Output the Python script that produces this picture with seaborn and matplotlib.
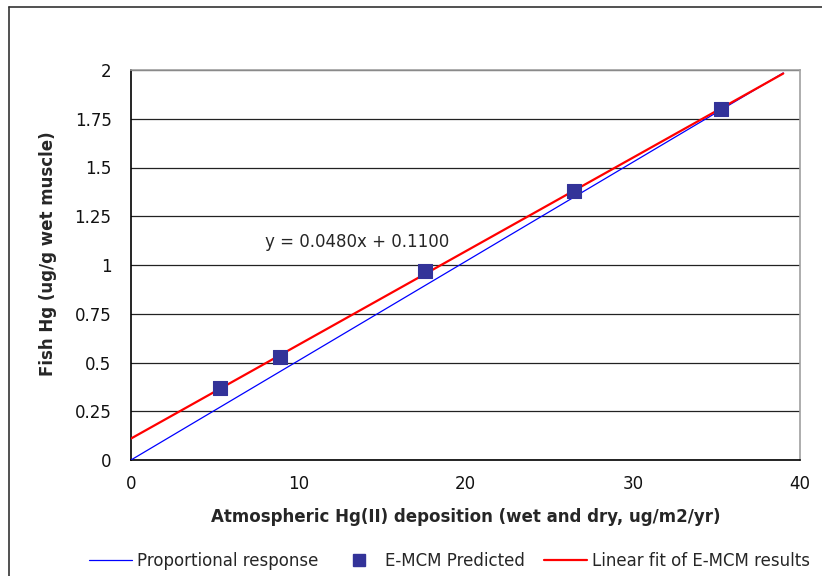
import numpy as np
import pandas as pd
import seaborn as sns
import matplotlib.pyplot as plt
from matplotlib.ticker import MultipleLocator
from matplotlib.lines import Line2D

# E-MCM predicted points (deposition vs fish Hg)
deposition = [5.3, 8.9, 17.6, 26.5, 35.3]
fish_hg = [0.37, 0.53, 0.97, 1.38, 1.80]

# line endpoints
prop_x = [0, 39]
prop_y = [0, 1.985]
fit_x = [0, 39]
fit_y = [0.11, 1.982]

sns.set_style("white")
plt.rcParams['font.family'] = ['DejaVu Sans']

fig = plt.figure(figsize=(8.22, 5.76), dpi=100)
ax = fig.add_axes([131 / 822, 1 - 460 / 576, 669 / 822, 390 / 576])

df = pd.DataFrame({"x": deposition, "y": fish_hg})

# lines first, then markers on top
sns.lineplot(x=prop_x, y=prop_y, ax=ax, color="#0000ff", linewidth=0.9, zorder=3)
sns.lineplot(x=fit_x, y=fit_y, ax=ax, color="#ff0000", linewidth=1.6, zorder=4)
sns.scatterplot(data=df, x="x", y="y", ax=ax, marker="s", s=95, color="#333399",
                edgecolor="#333399", zorder=5)

ax.set_xlim(0, 40)
ax.set_ylim(0, 2)
ax.xaxis.set_major_locator(MultipleLocator(10))
ax.xaxis.set_minor_locator(MultipleLocator(5))
ax.set_yticks([0, 0.25, 0.5, 0.75, 1, 1.25, 1.5, 1.75, 2])
ax.set_yticklabels(["0", "0.25", "0.5", "0.75", "1", "1.25", "1.5", "1.75", "2"])

ax.grid(axis="y", color="#222222", linewidth=0.9)
ax.set_axisbelow(True)
ax.tick_params(axis="both", which="both", direction="out", length=6, width=1,
               color="black", labelsize=12, labelcolor="#111111", pad=8)
ax.tick_params(axis="x", which="minor", length=4)
ax.tick_params(axis="x", which="major", length=5, pad=6)

for side in ["left", "bottom"]:
    ax.spines[side].set_color("black")
    ax.spines[side].set_linewidth(1.2)
for side in ["top", "right"]:
    ax.spines[side].set_visible(True)
    ax.spines[side].set_color("#a0a0a0")
    ax.spines[side].set_linewidth(1.2)

ax.set_xlabel("Atmospheric Hg(II) deposition (wet and dry, ug/m2/yr)",
              fontsize=12, fontweight="bold")
ax.set_ylabel("Fish Hg (ug/g wet muscle)", fontsize=12, fontweight="bold")
ax.xaxis.set_label_coords(0.5, -0.124)
ax.yaxis.set_label_coords(-0.11, 0.528)

ax.text(8.0, 1.12, "y = 0.0480x + 0.1100", fontsize=12, va="center", ha="left")

# legend at bottom of figure
handles = [
    Line2D([], [], color="#0000ff", linewidth=0.9),
    Line2D([], [], color="#333399", marker="s", linestyle="none", markersize=8),
    Line2D([], [], color="#ff0000", linewidth=1.6),
]
labels = ["Proportional response", "E-MCM Predicted", "Linear fit of E-MCM results"]
fig.legend(handles, labels, loc="center left", bbox_to_anchor=(0.09, 1 - 561 / 576),
           ncol=3, frameon=False, fontsize=12, handlelength=2.6, handletextpad=0.3,
           columnspacing=1.1)

# outer frame (cut off on right and bottom like the original)
fig.add_artist(Line2D([9 / 822, 9 / 822], [0, 1 - 7 / 576], transform=fig.transFigure,
                      color="#333333", linewidth=1.2))
fig.add_artist(Line2D([9 / 822, 1], [1 - 7 / 576, 1 - 7 / 576], transform=fig.transFigure,
                      color="#333333", linewidth=1.2))

fig.savefig("out.png", dpi=100)
